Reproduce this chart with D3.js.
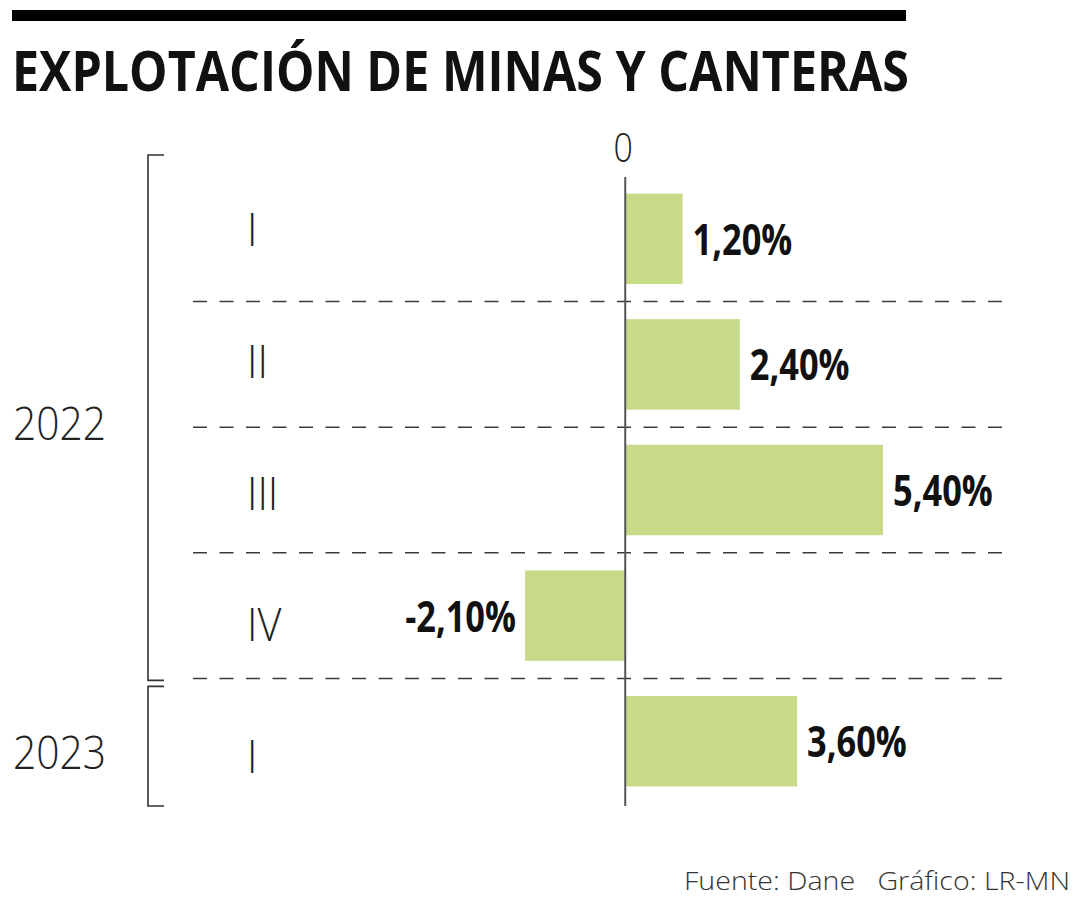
<!DOCTYPE html>
<html>
<head>
<meta charset="utf-8">
<script src="https://cdn.jsdelivr.net/npm/d3@7"></script>
<style>
  html, body { margin: 0; padding: 0; background: #ffffff; }
  svg { display: block; }
  text { white-space: pre; }
</style>
</head>
<body>
<svg id="chart" width="1080" height="900"></svg>
<script>
// ---- data ----
const title = "EXPLOTACIÓN DE MINAS Y CANTERAS";
const quarters = ["I", "II", "III", "IV", "I"];
const years = ["2022", "2022", "2022", "2022", "2023"];
const values = [1.2, 2.4, 5.4, -2.1, 3.6];
const valueLabels = ["1,20%", "2,40%", "5,40%", "-2,10%", "3,60%"];
const yearGroups = ["2022", "2023"];
const zeroLabel = "0";
const source = "Fuente: Dane   Gráfico: LR-MN";

const svg = d3.select("#chart");
const barColor = "#c6da87";
const lightFont = "'Open Sans', 'Noto Sans', sans-serif";
const boldFont = "'Open Sans', 'Noto Sans', sans-serif";

const keys = values.map((d, i) => i);

// scales
const x = d3.scaleLinear().domain([-2.1, 5.4]).range([525, 883]);
const y = d3.scaleBand().domain(keys).range([176, 804]).paddingInner(0.28).paddingOuter(0.14);
// row-label positions (labels in the original are spaced slightly wider than the bars)
const yLab = d3.scalePoint().domain(keys).range([230, 757]);

// top black rule
svg.append("rect").attr("x", 12).attr("y", 10).attr("width", 894).attr("height", 11).attr("fill", "#000");

// title
svg.append("text")
  .attr("x", 12).attr("y", 91)
  .attr("font-family", boldFont).attr("font-weight", 700)
  .attr("font-size", 55)
  .attr("textLength", 897).attr("lengthAdjust", "spacingAndGlyphs")
  .attr("fill", "#111")
  .text(title);

// dashed separators
const step = y.step();
const seps = keys.slice(1).map(i => y(i) - step * y.paddingInner() / 2);
svg.selectAll("line.sep").data(seps).join("line")
  .attr("class", "sep")
  .attr("x1", 193).attr("x2", 1005)
  .attr("y1", d => d).attr("y2", d => d)
  .attr("stroke", "#3a3a3a").attr("stroke-width", 1.5)
  .attr("stroke-dasharray", "14 12.5");

// bars
svg.selectAll("rect.bar").data(values).join("rect")
  .attr("class", "bar")
  .attr("x", d => x(Math.min(0, d)))
  .attr("y", (d, i) => y(i))
  .attr("width", d => Math.abs(x(d) - x(0)))
  .attr("height", y.bandwidth())
  .attr("fill", barColor);

// zero line
svg.append("line")
  .attr("x1", x(0)).attr("x2", x(0))
  .attr("y1", 177).attr("y2", 806)
  .attr("stroke", "#555").attr("stroke-width", 2);

svg.append("text")
  .attr("x", x(0) - 2).attr("y", 162)
  .attr("text-anchor", "middle")
  .attr("font-family", lightFont).attr("font-weight", 300)
  .attr("font-size", 40)
  .attr("transform", `translate(${x(0) - 2},0) scale(0.85,1) translate(${-(x(0) - 2)},0)`)
  .attr("fill", "#222")
  .text(zeroLabel);

// value labels (condensed bold)
svg.selectAll("text.val").data(values).join("text")
  .attr("class", "val")
  .attr("font-family", boldFont).attr("font-weight", 700)
  .attr("font-size", 43)
  .attr("fill", "#111")
  .attr("text-anchor", d => d < 0 ? "end" : "start")
  .attr("transform", (d, i) => {
    const tx = d < 0 ? x(d) - 9 : x(d) + 10;
    const ty = y(i) + y.bandwidth() / 2 + 16;
    return `translate(${tx},${ty}) scale(0.8,1)`;
  })
  .text((d, i) => valueLabels[i]);

// quarter labels
svg.selectAll("text.q").data(quarters).join("text")
  .attr("class", "q")
  .attr("font-family", lightFont).attr("font-weight", 300)
  .attr("font-size", 46)
  .attr("fill", "#222")
  .attr("transform", (d, i) => `translate(247,${yLab(i) + 16}) scale(0.9,1)`)
  .text(d => d);

// year brackets
yearGroups.forEach(yr => {
  const idx = keys.filter(i => years[i] === yr);
  const first = idx[0], last = idx[idx.length - 1];
  const top = yr === yearGroups[0] ? 155 : y(first) - step * y.paddingInner() / 2 + 8;
  const bottom = yr === yearGroups[0] ? y(last) + y.bandwidth() + step * y.paddingInner() / 2 + 2 : 806;
  svg.append("path")
    .attr("d", `M164,${top} H148 V${bottom} H164`)
    .attr("fill", "none").attr("stroke", "#333").attr("stroke-width", 1.6);
  const mid = (yLab(first) + yLab(last)) / 2;
  svg.append("text")
    .attr("x", 13).attr("y", mid + 12)
    .attr("font-family", lightFont).attr("font-weight", 300)
    .attr("font-size", 46)
    .attr("textLength", 93).attr("lengthAdjust", "spacingAndGlyphs")
    .attr("fill", "#222")
    .text(yr);
});

// source
svg.append("text")
  .attr("x", 1070).attr("y", 890)
  .attr("text-anchor", "end")
  .attr("font-family", lightFont).attr("font-weight", 300)
  .attr("font-size", 26)
  .attr("fill", "#333")
  .attr("textLength", 386).attr("lengthAdjust", "spacingAndGlyphs")
  .attr("xml:space", "preserve")
  .text(source);
</script>
</body>
</html>
